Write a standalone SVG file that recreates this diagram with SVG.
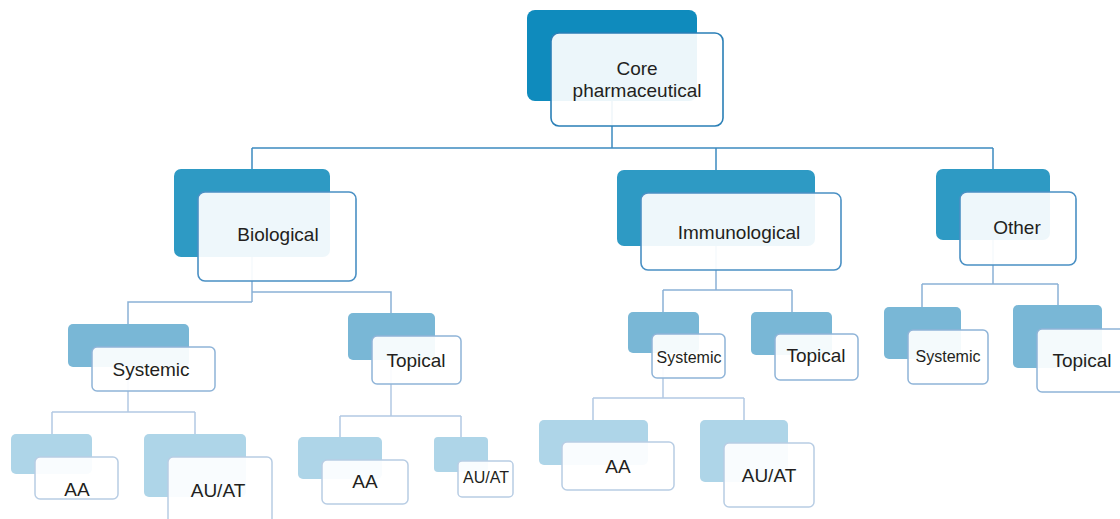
<svg xmlns="http://www.w3.org/2000/svg" width="1120" height="519" viewBox="0 0 1120 519">
<style>
text{font-family:"Liberation Sans",Arial,sans-serif;fill:#231f20;text-anchor:middle}
.t18{font-size:19px}
.t15{font-size:16px}
.b1{fill:#0f8bbd}
.b2{fill:#2e9ac4}
.b3{fill:#79b7d6}
.b4{fill:#aed5e8}
.f{fill:#ffffff;fill-opacity:0.92}
.f1{stroke:#2a7fb6;stroke-width:1.6}
.f2{stroke:#4a90c4;stroke-width:1.6}
.f3{stroke:#8fb4d8;stroke-width:1.5}
.f4{stroke:#b8cde4;stroke-width:1.5}
.c1{fill:none;stroke:#3d8bc0;stroke-width:1.5}
.c2{fill:none;stroke:#8ab1d6;stroke-width:1.5}
.c3{fill:none;stroke:#b3c9e3;stroke-width:1.5}
</style>
<g id="connectors">
<path class="c1" d="M612 101V148M252 148H993M252 148V170M716 148V170M993 148V170"/>
<path class="c2" d="M252 257V302M252 302H128V324M252 292H391V313"/>
<path class="c2" d="M716 246V290M663 290H792M663 290V312M792 290V312"/>
<path class="c2" d="M993 240V284M922 284H1058M922 284V307M1058 284V305"/>
<path class="c3" d="M128 367V412M52 412H195M52 412V434M195 412V434"/>
<path class="c3" d="M391 360V416M340 416H461M340 416V437M461 416V437"/>
<path class="c3" d="M663 353V398M593 398H744M593 398V420M744 398V420"/>
</g>
<g id="core">
<rect class="b1" x="527" y="10" width="170" height="91" rx="8"/>
<rect class="f f1" x="551" y="33" width="172" height="93" rx="8"/>
<text class="t18" x="637" y="75">Core</text>
<text class="t18" x="637" y="97">pharmaceutical</text>
</g>
<g id="biological">
<rect class="b2" x="174" y="169" width="156" height="88" rx="7"/>
<rect class="f f2" x="198" y="192" width="158" height="89" rx="7"/>
<text class="t18" x="278" y="241">Biological</text>
</g>
<g id="immunological">
<rect class="b2" x="617" y="170" width="198" height="76" rx="7"/>
<rect class="f f2" x="641" y="193" width="200" height="77" rx="7"/>
<text class="t18" x="739" y="239">Immunological</text>
</g>
<g id="other">
<rect class="b2" x="936" y="169" width="114" height="71" rx="7"/>
<rect class="f f2" x="960" y="192" width="116" height="73" rx="7"/>
<text class="t18" x="1017" y="234">Other</text>
</g>
<g id="bio-systemic">
<rect class="b3" x="68" y="324" width="121" height="43" rx="5"/>
<rect class="f f3" x="92" y="347" width="123" height="44" rx="5"/>
<text class="t18" x="151" y="376">Systemic</text>
</g>
<g id="bio-topical">
<rect class="b3" x="348" y="313" width="87" height="47" rx="5"/>
<rect class="f f3" x="372" y="336" width="89" height="48" rx="5"/>
<text class="t18" x="416" y="367">Topical</text>
</g>
<g id="imm-systemic">
<rect class="b3" x="628" y="312" width="71" height="41" rx="5"/>
<rect class="f f3" x="652" y="334" width="73" height="44" rx="5"/>
<text class="t15" x="689" y="363">Systemic</text>
</g>
<g id="imm-topical">
<rect class="b3" x="751" y="312" width="81" height="43" rx="5"/>
<rect class="f f3" x="775" y="334" width="83" height="46" rx="5"/>
<text class="t18" x="816" y="362">Topical</text>
</g>
<g id="oth-systemic">
<rect class="b3" x="884" y="307" width="77" height="52" rx="5"/>
<rect class="f f3" x="908" y="330" width="80" height="54" rx="5"/>
<text class="t15" x="948" y="362">Systemic</text>
</g>
<g id="oth-topical">
<rect class="b3" x="1013" y="305" width="89" height="63" rx="5"/>
<rect class="f f3" x="1037" y="329" width="95" height="63" rx="5"/>
<text class="t18" x="1082" y="367">Topical</text>
</g>
<g id="bio-sys-aa">
<rect class="b4" x="11" y="434" width="81" height="40" rx="5"/>
<rect class="f f4" x="35" y="457" width="83" height="42" rx="5"/>
<text class="t18" x="77" y="496">AA</text>
</g>
<g id="bio-sys-auat">
<rect class="b4" x="144" y="434" width="102" height="63" rx="5"/>
<rect class="f f4" x="168" y="457" width="104" height="70" rx="5"/>
<text class="t18" x="218" y="497">AU/AT</text>
</g>
<g id="bio-top-aa">
<rect class="b4" x="298" y="437" width="84" height="42" rx="5"/>
<rect class="f f4" x="322" y="460" width="86" height="44" rx="5"/>
<text class="t18" x="365" y="488">AA</text>
</g>
<g id="bio-top-auat">
<rect class="b4" x="434" y="437" width="54" height="35" rx="4"/>
<rect class="f f4" x="458" y="461" width="55" height="36" rx="4"/>
<text class="t15" x="486" y="483">AU/AT</text>
</g>
<g id="imm-sys-aa">
<rect class="b4" x="539" y="420" width="109" height="45" rx="5"/>
<rect class="f f4" x="562" y="442" width="112" height="48" rx="5"/>
<text class="t18" x="618" y="473">AA</text>
</g>
<g id="imm-sys-auat">
<rect class="b4" x="700" y="420" width="88" height="62" rx="5"/>
<rect class="f f4" x="724" y="443" width="90" height="64" rx="5"/>
<text class="t18" x="769" y="482">AU/AT</text>
</g>
</svg>
